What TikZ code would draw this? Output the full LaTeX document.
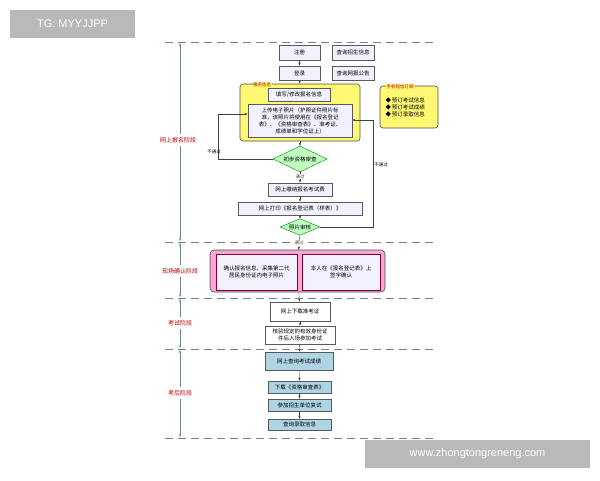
\documentclass[tikz,border=0pt]{standalone}
\usepackage{fontspec}
\setmainfont{Noto Sans CJK SC}
\newfontfamily\lat{Liberation Sans}
\usetikzlibrary{shapes.geometric,arrows.meta}
\definecolor{dashc}{RGB}{110,130,160}
\begin{document}
\begin{tikzpicture}[x=1pt,y=-1pt,font=\fontsize{5.5}{7}\selectfont,
  bx/.style={draw=gray!70!black,fill=blue!5,line width=0.6pt,inner sep=1pt,align=center},
  tl/.style={draw=gray!70!black,fill=cyan!40!teal!35,line width=0.6pt,inner sep=1pt,align=center},
  dia/.style={diamond,aspect=2.2,draw=green!50!black,fill=green!25,inner sep=0.5pt},
  ar/.style={-{Stealth[length=3pt]},gray!50!black,line width=0.4pt},
  dl/.style={dash pattern=on 8pt off 5pt,draw=dashc,line width=0.8pt},
  stg/.style={red!70!black,font=\fontsize{6}{7}\selectfont},
  sm/.style={font=\fontsize{4.5}{5}\selectfont}]
\fill[white] (0,0) rectangle (600,480);
\useasboundingbox (0,0) rectangle (600,480);
% dashed stage lines
\foreach \y in {42,242,298,349,438} \draw[dl] (165,\y) -- (435,\y);
% axis
\foreach \a/\b in {42/242,242/298,298/349,349/438}
  \draw[{Stealth[length=3pt]}-{Stealth[length=3pt]},draw=dashc,fill=dashc,line width=0.6pt] (180,\a+1) -- (180,\b-1);
\node[stg,fill=white] at (178,140) {网上报名阶段};
\node[stg,fill=white] at (180,271) {现场确认阶段};
\node[stg,fill=white] at (180,323) {考试阶段};
\node[stg,fill=white] at (180,393) {考后阶段};
% top
\node[bx,minimum width=41pt,minimum height=15pt] (zc) at (299.5,52.5) {注册};
\node[bx,minimum width=42pt,minimum height=15pt] (cx) at (353,52.5) {查询招生信息};
\node[bx,minimum width=41pt,minimum height=14pt] (dl) at (299.5,73) {登录};
\node[bx,minimum width=42pt,minimum height=14pt] (gg) at (353,73) {查询网报公告};
% yellow
\node[draw=gray!60!black,fill=yellow!55,rounded corners=3pt,minimum width=120pt,minimum height=57pt,line width=0.6pt] (yb) at (300,112.5) {};
\node[red!70!black,sm,fill=yellow!55,inner sep=0.5pt] at (262,84.5) {报名信息};
\node[bx,minimum width=62pt,minimum height=13pt] (tx) at (299,94.5) {填写/修改报名信息};
\node[bx,minimum width=104pt,minimum height=33pt] (up) at (300,120.5) {上传电子照片（护照证件照片标\\准，该照片将使用在《报名登记\\表》、《资格审查表》、准考证、\\成绩单和学位证上）};
\node[draw=gray!60!black,fill=yellow!55,rounded corners=3pt,minimum width=58pt,minimum height=42pt,line width=0.6pt] (sj) at (409,107) {};
\node[red!70!black,sm,fill=yellow!55,inner sep=0.5pt] at (400,86.5) {手机短信订阅};
\node[align=left,anchor=west] at (382,107) {\textbf{\symbol{"25C6}}\,预订考试信息\\\textbf{\symbol{"25C6}}\,预订考试成绩\\\textbf{\symbol{"25C6}}\,预订录取信息};
% diamonds etc
\node[dia,minimum width=54pt,minimum height=26pt] (d1) at (300,159) {初步资格审查};
\node[bx,minimum width=64pt,minimum height=13pt] (jf) at (300,189.5) {网上缴纳报名考试费};
\node[bx,minimum width=124pt,minimum height=13pt] (dy) at (300,208.5) {网上打印《报名登记表（样表）》};
\node[dia,minimum width=40pt,minimum height=16pt] (d2) at (300,227) {照片审核};
\draw[ar] (zc) -- (dl);
\draw[ar] (dl) -- (yb);
\draw[ar] (yb) -- (d1);
\draw[ar] (d1) -- node[sm,fill=white,inner sep=0.5pt,pos=0.45]{通过} (jf);
\draw[ar] (jf) -- (dy);
\draw[ar] (dy) -- (d2);
\draw[ar] (d1.west) -- (218,159) -- (218,114) -- (up.west|-0,114);
\node[sm] at (214,152) {不通过};
\draw[ar] (d2.east) -- (373,227) -- (373,120) -- (up.east|-0,120);
\node[sm] at (381,165) {不通过};
% pink
\node[draw=gray!60!black,fill=magenta!35,rounded corners=4pt,minimum width=175pt,minimum height=42pt,line width=0.6pt] (pk) at (297.5,271) {};
\node[draw=purple!70!black,fill=blue!5,minimum width=81pt,minimum height=36pt,align=center,line width=0.6pt,inner sep=1pt] (p1) at (256.5,272) {确认报名信息、采集第二代\\居民身份证内电子照片};
\node[draw=purple!70!black,fill=blue!5,minimum width=78pt,minimum height=36pt,align=center,line width=0.6pt,inner sep=1pt] (p2) at (341,272) {本人在《报名登记表》上\\签字确认};
\draw[ar] (d2) -- node[sm,fill=white,inner sep=0.5pt,pos=0.55]{通过} (pk);
% exam
\node[bx,fill=white,minimum width=60pt,minimum height=19pt] (zk) at (300,311.5) {网上下载准考证};
\node[bx,fill=white,minimum width=70pt,minimum height=18pt] (hy) at (300,335) {核验规定的有效身份证\\件后入场参加考试};
\draw[ar] (pk) -- (zk);
\draw[ar] (zk) -- (hy);
% after
\node[tl,minimum width=68pt,minimum height=18pt] (cj) at (299,361) {网上查询考试成绩};
\node[tl,minimum width=63pt,minimum height=12pt] (xz) at (299.5,387) {下载《资格审查表》};
\node[tl,minimum width=63pt,minimum height=12pt] (fs) at (299.5,405) {参加招生单位复试};
\node[tl,minimum width=63pt,minimum height=11pt] (lq) at (299.5,424.5) {查询录取信息};
\draw[ar] (hy) -- (cj);
\draw[ar] (cj) -- (xz);
\draw[ar] (xz) -- (fs);
\draw[ar] (fs) -- (lq);
% watermarks
\node[fill=gray!55,text=white,font=\lat\fontsize{11}{12}\selectfont,minimum width=125pt,minimum height=28pt] at (72.5,24) {TG: MYYJJPP};
\node[fill=gray!55,text=white,font=\lat\fontsize{11}{12}\selectfont,minimum width=225pt,minimum height=28pt] at (477.5,454) {www.zhongtongreneng.com};
\end{tikzpicture}
\end{document}
